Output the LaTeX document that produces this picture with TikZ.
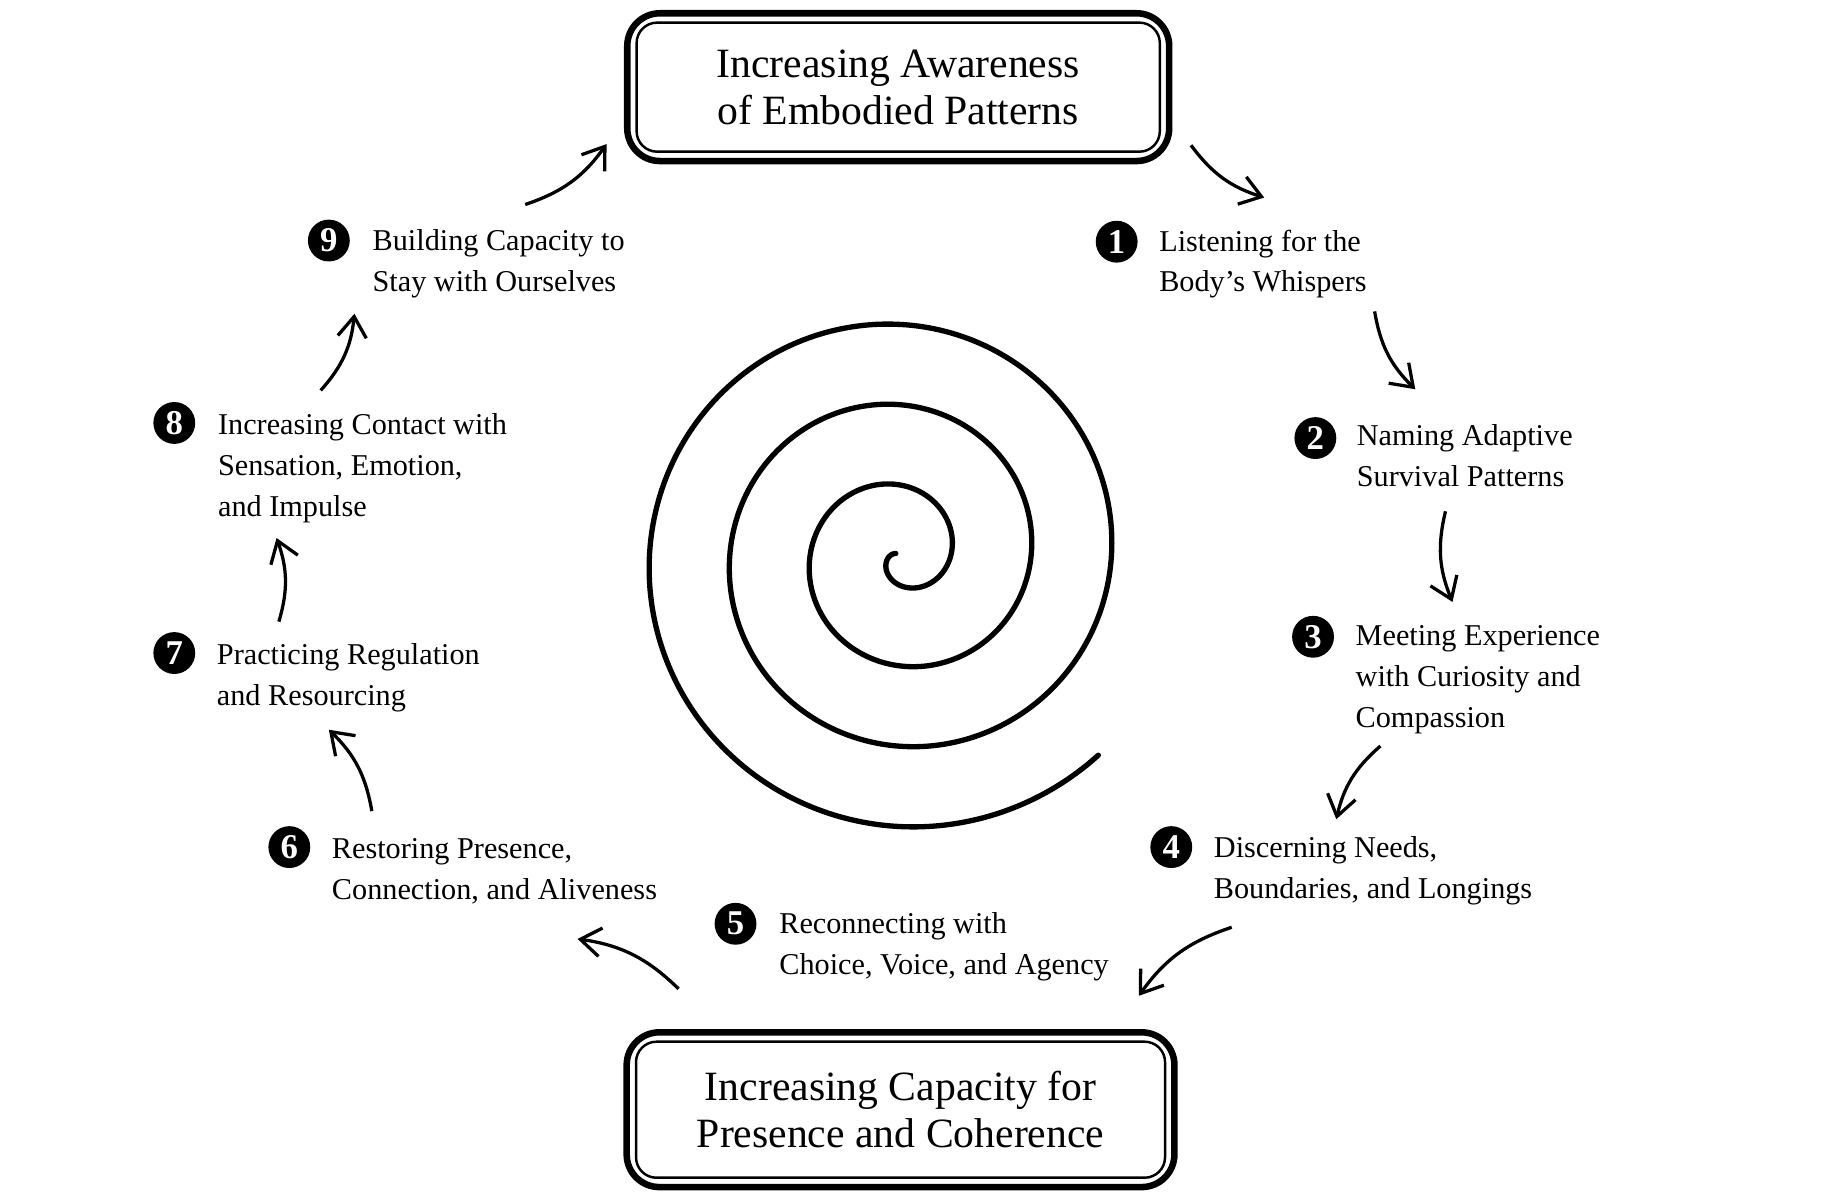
\documentclass[tikz,border=0pt]{standalone}
\usepackage{fontspec}
\setmainfont{Liberation Serif}
\usetikzlibrary{arrows.meta,positioning}
\tikzset{
  stepnum/.style={circle, fill=black, text=white, inner sep=0pt, minimum size=0.36cm, font=\fontsize{8.5}{9}\selectfont\bfseries},
  steptext/.style={anchor=north west, align=left, inner sep=0pt, font=\fontsize{7.4}{10}\selectfont},
  titlebox/.style={draw, line width=0.6pt, rounded corners=5pt, align=center, font=\fontsize{10.2}{11.6}\selectfont},
  flow/.style={line width=0.8pt, -{Straight Barb[length=5pt,width=7pt]}}
}
\begin{document}
\begin{tikzpicture}[x=0.01cm,y=-0.01cm]
  \useasboundingbox (0,0) rectangle (1568,1036);

  % title boxes
  \node[titlebox, minimum width=4.5cm, minimum height=1.11cm] (top) at (773,75)
    {Increasing Awareness\\of Embodied Patterns};
  \draw[line width=1.6pt, rounded corners=8pt] ([shift={(-7,-7)}]top.north west) rectangle ([shift={(7,7)}]top.south east);
  \node[titlebox, minimum width=4.55cm, minimum height=1.17cm] (bot) at (775,955)
    {Increasing Capacity for\\Presence and Coherence};
  \draw[line width=1.6pt, rounded corners=8pt] ([shift={(-7,-7)}]bot.north west) rectangle ([shift={(7,7)}]bot.south east);

  % steps
  \node[stepnum] (n1) at (961,208) {1};
  \node[steptext] (t1) at (997,197) {Listening for the\\Body's Whispers};
  \node[stepnum] (n2) at (1132,377) {2};
  \node[steptext] (t2) at (1167,365) {Naming Adaptive\\Survival Patterns};
  \node[stepnum] (n3) at (1130,548) {3};
  \node[steptext] (t3) at (1166,538) {Meeting Experience\\with Curiosity and\\Compassion};
  \node[stepnum] (n4) at (1008,729) {4};
  \node[steptext] (t4) at (1044,719) {Discerning Needs,\\Boundaries, and Longings};
  \node[stepnum] (n5) at (633,795) {5};
  \node[steptext] (t5) at (670,785) {Reconnecting with\\Choice, Voice, and Agency};
  \node[stepnum] (n6) at (249,729) {6};
  \node[steptext] (t6) at (285,721) {Restoring Presence,\\Connection, and Aliveness};
  \node[stepnum] (n7) at (150,562) {7};
  \node[steptext] (t7) at (186,553) {Practicing Regulation\\and Resourcing};
  \node[stepnum] (n8) at (150,364) {8};
  \node[steptext] (t8) at (187,355) {Increasing Contact with\\Sensation, Emotion,\\and Impulse};
  \node[stepnum] (n9) at (283,207) {9};
  \node[steptext] (t9) at (320,197) {Building Capacity to\\Stay with Ourselves};

  % arrows
  \coordinate (a0) at (1025,125); \coordinate (b0) at (1088,170);
  \coordinate (a1) at (1183,268); \coordinate (b1) at (1218,335);
  \coordinate (a2) at (1244,440); \coordinate (b2) at (1250,518);
  \coordinate (a3) at (1188,642); \coordinate (b3) at (1150,705);
  \coordinate (a4) at (1060,798); \coordinate (b4) at (980,857);
  \coordinate (a5) at (584,851);  \coordinate (b5) at (497,808);
  \coordinate (a6) at (320,698);  \coordinate (b6) at (283,628);
  \coordinate (a7) at (240,535);  \coordinate (b7) at (238,463);
  \coordinate (a8) at (276,336);  \coordinate (b8) at (305,270);
  \coordinate (a9) at (452,176);  \coordinate (b9) at (522,124);
  \foreach \i in {0,...,9}
    \draw[flow] (a\i) to[bend right=18] (b\i);

  % spiral
  \draw[line width=1.3pt, line cap=round, domain=0.4:22, samples=450, smooth]
    plot ({775+11*\x*cos(1305.5-\x*57.2958)}, {478+11*\x*sin(1305.5-\x*57.2958)});
\end{tikzpicture}
\end{document}
